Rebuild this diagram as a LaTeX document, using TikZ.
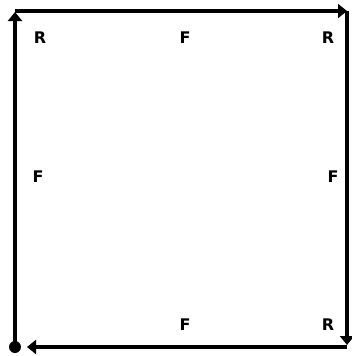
\documentclass[tikz,border=0pt]{standalone}
\usepackage{fontspec}
\setmainfont{DejaVu Sans}
\usetikzlibrary{arrows.meta}
\begin{document}
\begin{tikzpicture}[x=1pt,y=-1pt,
  edge/.style={line width=4.5pt,-{Triangle[length=9pt,width=14pt]}},
  lbl/.style={font=\fontsize{16}{16}\selectfont\bfseries, inner sep=0pt}]
\useasboundingbox (0,0) rectangle (352,356);
\coordinate (TL) at (15,11);
\coordinate (TR) at (347,11);
\coordinate (BR) at (347,347);
\coordinate (BL) at (15,347);
\draw[edge] (TL) -- (TR);
\draw[edge,shorten >=2pt] (TR) -- (BR);
\draw[edge,shorten >=12pt] (BR) -- (BL);
\draw[edge,shorten >=1pt] (BL) -- (TL);
\fill (BL) circle (6pt);
\node[lbl] (r1) at (40,38) {R};
\node[lbl] (f1) at (185,38) {F};
\node[lbl] (r2) at (328,38) {R};
\node[lbl] (f2) at (38,177) {F};
\node[lbl] (f3) at (333,177) {F};
\node[lbl] (f4) at (185,325) {F};
\node[lbl] (r3) at (328,325) {R};
\end{tikzpicture}
\end{document}
